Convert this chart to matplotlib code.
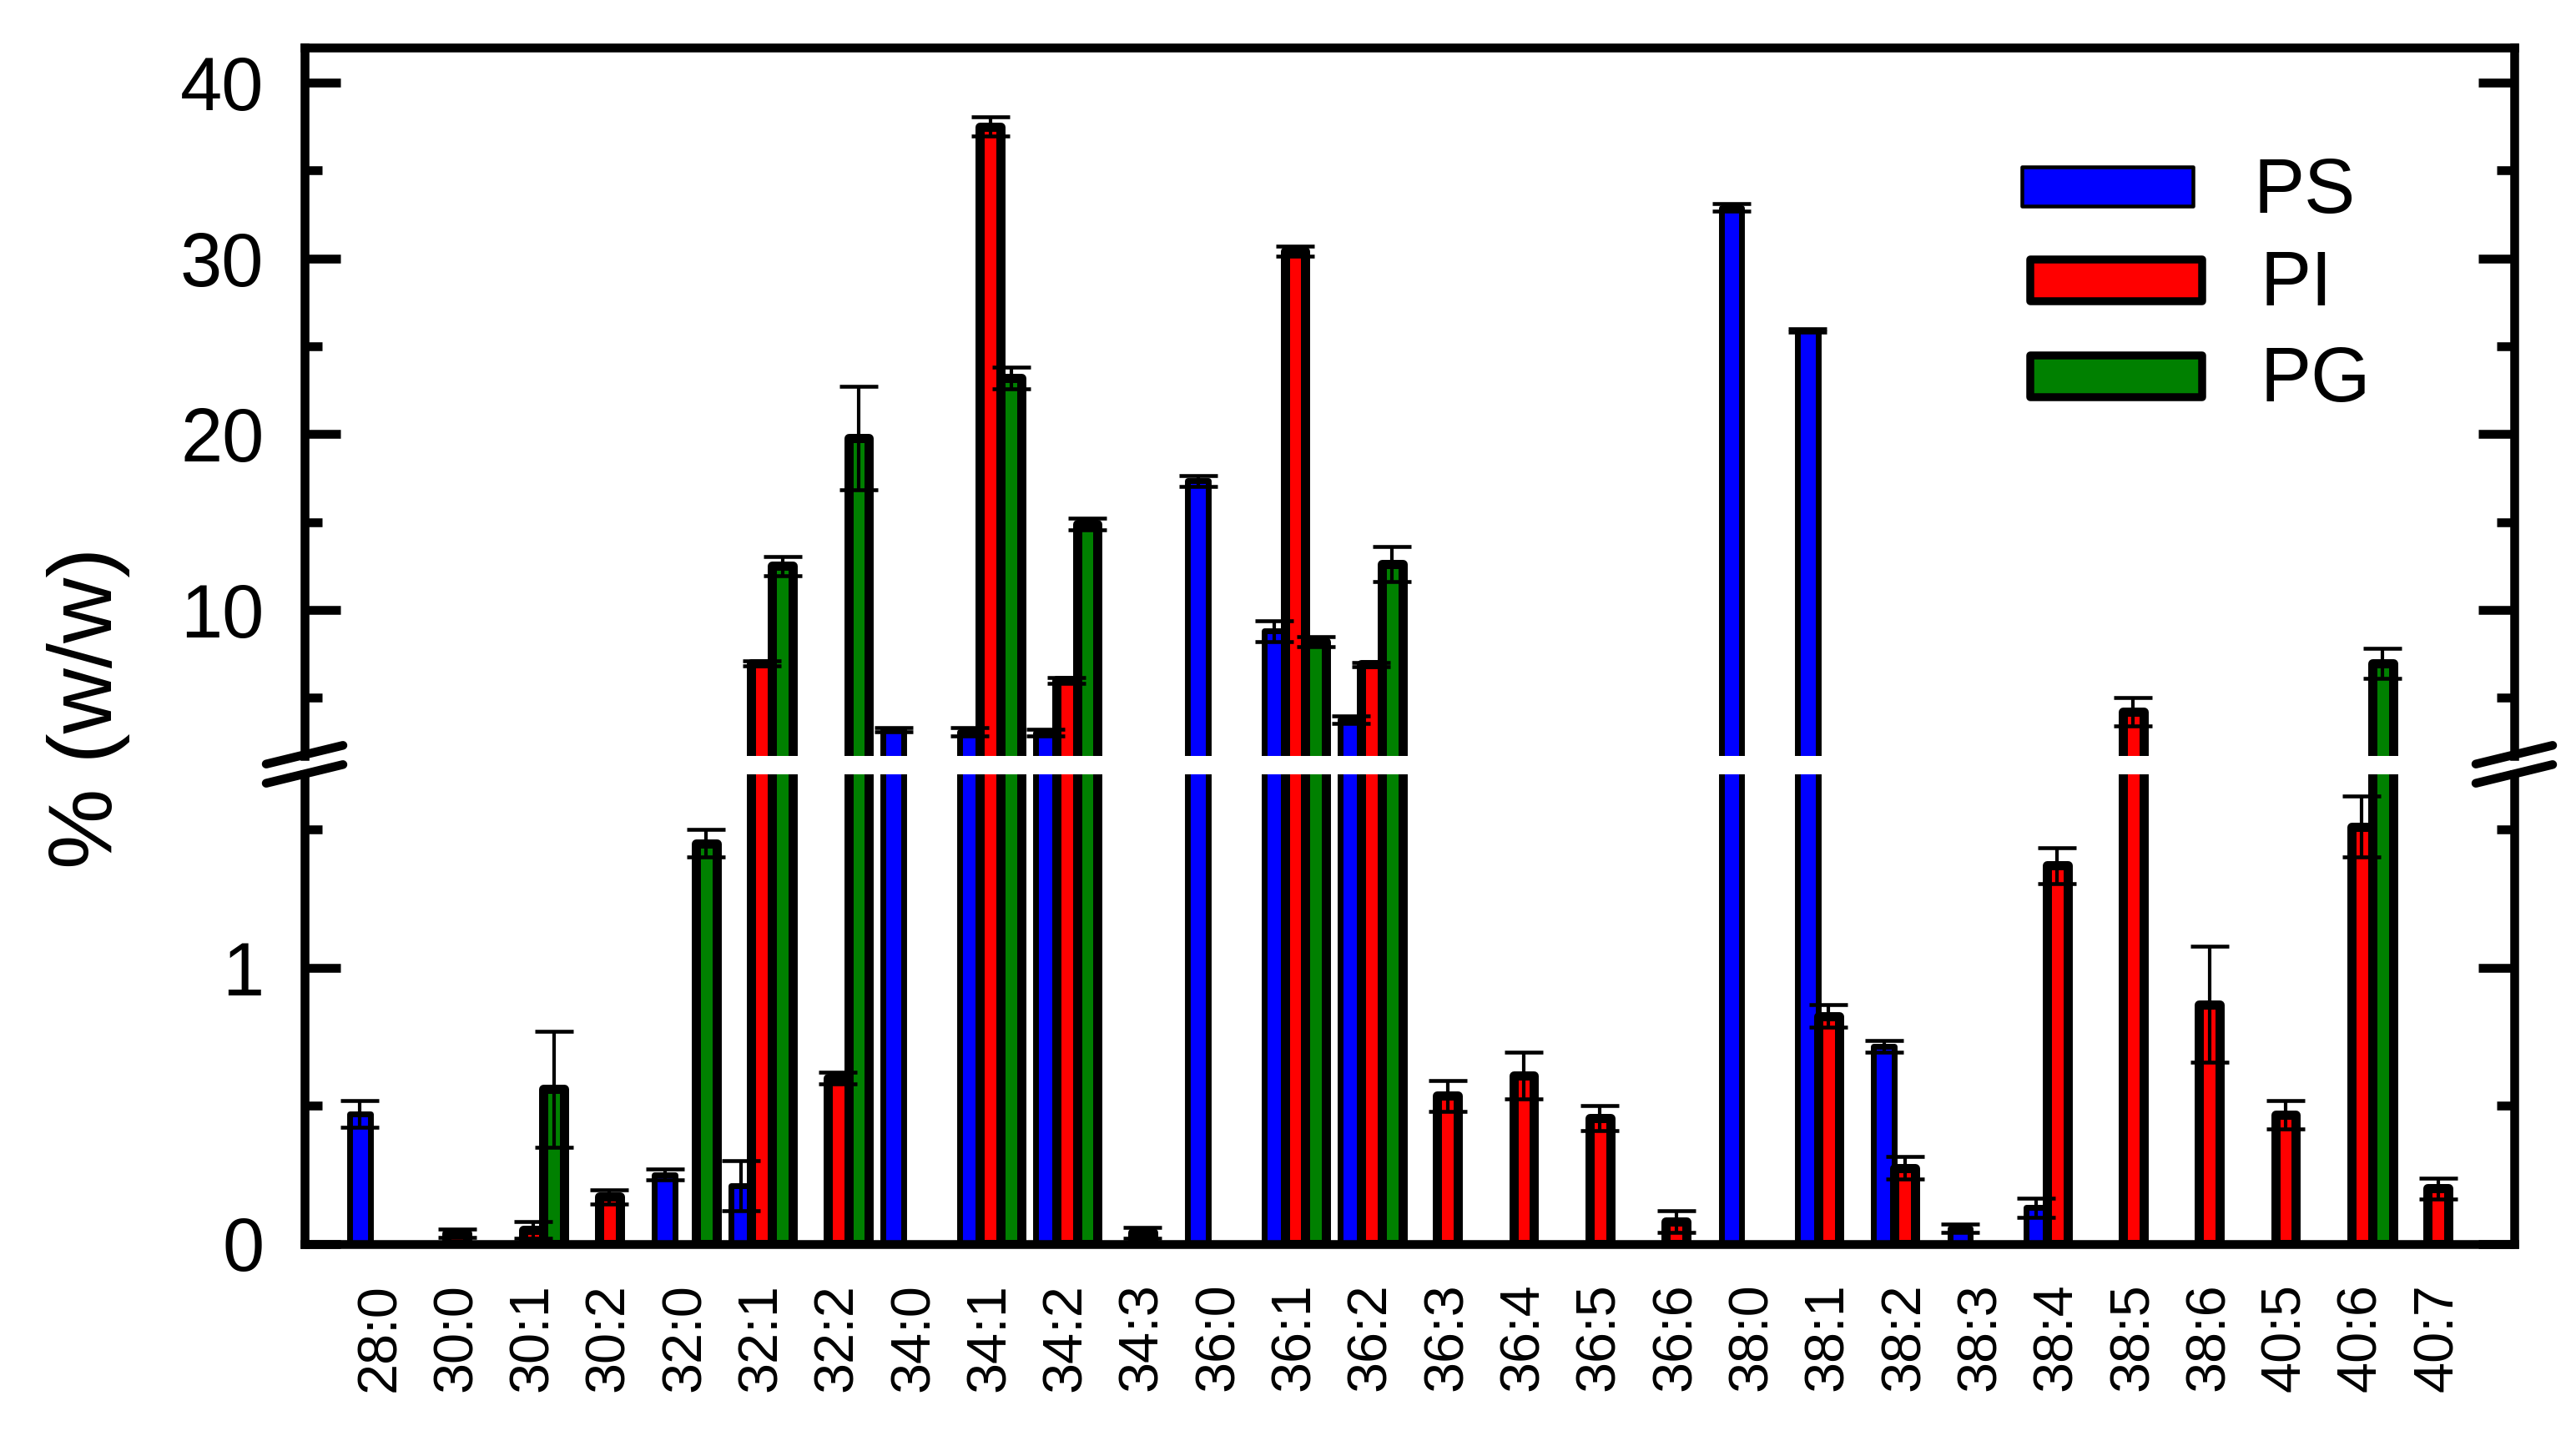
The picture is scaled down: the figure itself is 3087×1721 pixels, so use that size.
import numpy as np
import matplotlib
matplotlib.use("Agg")
import matplotlib.pyplot as plt
from matplotlib.lines import Line2D
from matplotlib.patches import Rectangle
from matplotlib.ticker import FixedLocator

plt.rcParams['font.family'] = ['Liberation Sans', 'DejaVu Sans']

# ---------------- data ----------------
categories = ["28:0", "30:0", "30:1", "30:2", "32:0", "32:1", "32:2", "34:0",
              "34:1", "34:2", "34:3", "36:0", "36:1", "36:2", "36:3", "36:4",
              "36:5", "36:6", "38:0", "38:1", "38:2", "38:3", "38:4", "38:5",
              "38:6", "40:5", "40:6", "40:7"]
nan = np.nan
ps_values = [0.47, nan, nan, nan, 0.25, 0.21, nan, 3.2,
             3.07, 3.04, nan, 17.35, 8.8, 3.77, nan, nan,
             nan, nan, 32.9, 25.9, 0.715, 0.055, 0.13, nan,
             nan, nan, nan, nan]
ps_errors = [0.048, nan, nan, nan, 0.02, 0.09, nan, 0.1,
             0.23, 0.2, nan, 0.3, 0.6, 0.2, nan, nan,
             nan, nan, 0.2, 0.1, 0.02, 0.015, 0.035, nan,
             nan, nan, nan, nan]
pi_values = [nan, 0.038, 0.05, 0.17, nan, 6.96, 0.6, nan,
             37.5, 6.0, 0.04, nan, 30.4, 6.9, 0.535, 0.61,
             0.455, 0.08, nan, 0.825, 0.275, nan, 1.37, 4.2,
             0.867, 0.467, 1.51, 0.2]
pi_errors = [nan, 0.015, 0.03, 0.025, nan, 0.15, 0.022, nan,
             0.55, 0.17, 0.02, nan, 0.28, 0.13, 0.055, 0.085,
             0.045, 0.04, nan, 0.04, 0.04, nan, 0.065, 0.8,
             0.21, 0.05, 0.11, 0.038]
pg_values = [nan, nan, 0.56, nan, 1.45, 12.5, 19.8, nan,
             23.2, 14.9, nan, nan, 8.2, 12.6, nan, nan,
             nan, nan, nan, nan, nan, nan, nan, nan,
             nan, nan, 6.96, nan]
pg_errors = [nan, nan, 0.21, nan, 0.05, 0.55, 2.95, nan,
             0.6, 0.35, nan, nan, 0.3, 1.0, nan, nan,
             nan, nan, nan, nan, nan, nan, nan, nan,
             nan, nan, 0.85, nan]
series_labels = ["PS", "PI", "PG"]
series_colors = ["#0000ff", "#ff0000", "#008000"]
upper_ticks = [10, 20, 30, 40]
upper_minor = [5, 15, 25, 35]
lower_ticks = [0, 1]
lower_tick_labels = ["0", "1"]
lower_minor = [0.5, 1.5]
y_label = "% (w/w)"
BREAK = 1.7
Y_TOP = 42

# ---------------- layout (pixels of the 3087x1721 canvas) ----------------
W, H, DPI = 3087, 1721, 100
PT = DPI / 72.0
fig = plt.figure(figsize=(W / DPI, H / DPI), dpi=DPI)


def fx(px):
    return px / W


def fy(py):
    return 1 - py / H


AX_L, AX_R = 365, 3013
UP_T, UP_B = 57, 906
LO_T, LO_B = 928, 1490.5

ax_up = fig.add_axes([fx(AX_L), fy(UP_B), (AX_R - AX_L) / W, (UP_B - UP_T) / H])
ax_lo = fig.add_axes([fx(AX_L), fy(LO_B), (AX_R - AX_L) / W, (LO_B - LO_T) / H])

n = len(categories)
x = np.arange(n)
bar_w = 0.272
offsets = [-0.272, 0.0, 0.272]
edge_lw = [5.0, 7.9, 7.9]
all_vals = [ps_values, pi_values, pg_values]
all_errs = [ps_errors, pi_errors, pg_errors]

for ax in (ax_up, ax_lo):
    for i in range(3):
        v = np.array(all_vals[i], dtype=float)
        e = np.array(all_errs[i], dtype=float)
        m = ~np.isnan(v)
        if ax is ax_up:
            m &= np.nan_to_num(v) > BREAK
        ax.bar(x[m] + offsets[i], v[m], width=bar_w, color=series_colors[i],
               edgecolor="black", linewidth=edge_lw[i], joinstyle="round",
               zorder=2)
    for i in range(3):
        v = np.array(all_vals[i], dtype=float)
        e = np.array(all_errs[i], dtype=float)
        m = ~np.isnan(v)
        if ax is ax_up:
            m &= np.nan_to_num(v) > BREAK
        ax.errorbar(x[m] + offsets[i], v[m], yerr=e[m], fmt="none",
                    ecolor="black", elinewidth=3.0, capsize=16.5,
                    capthick=3.3, zorder=3)
    ax.set_xlim(-1, n)
    for s in ax.spines.values():
        s.set_linewidth(7.6)
    ax.tick_params(axis="y", which="both", direction="in", left=True,
                   right=True, width=7.6, labelsize=65, pad=35)
    ax.tick_params(axis="y", which="major", length=31)
    ax.tick_params(axis="y", which="minor", length=15)

ax_up.set_ylim(BREAK, Y_TOP)
ax_lo.set_ylim(0, BREAK)
ax_up.spines["bottom"].set_visible(False)
ax_lo.spines["top"].set_visible(False)

ax_up.yaxis.set_major_locator(FixedLocator(upper_ticks))
ax_up.yaxis.set_minor_locator(FixedLocator(upper_minor))
ax_up.set_yticklabels([str(t) for t in upper_ticks])
ax_lo.yaxis.set_major_locator(FixedLocator(lower_ticks))
ax_lo.yaxis.set_minor_locator(FixedLocator(lower_minor))
ax_lo.set_yticklabels(lower_tick_labels)

ax_up.tick_params(axis="x", which="both", bottom=False, top=False,
                  labelbottom=False)
ax_lo.set_xticks(x)
ax_lo.set_xticklabels(categories, rotation=90)
ax_lo.tick_params(axis="x", which="both", length=0, labelsize=48, pad=34,
                  top=False)

# y label
fig.text(fx(106), fy(848), y_label, rotation=90, ha="center", va="center",
         fontsize=78)

# break marks on both side spines
for cx in (AX_L, AX_R):
    for dy in (0.0, 23.0):
        x0, y0 = cx - 46, 915.7 + dy
        x1, y1 = cx + 46, 893.3 + dy
        fig.add_artist(Line2D([fx(x0), fx(x1)], [fy(y0), fy(y1)],
                              transform=fig.transFigure, color="black",
                              lw=10.5 / PT, solid_capstyle="round",
                              zorder=10, clip_on=False))

# legend (drawn manually to match handle geometry)
leg_boxes = [(2423, 200, 2628, 247), (2433, 311.5, 2638.5, 360.5),
             (2433, 426.5, 2638.5, 475.5)]
leg_lw = [4.5 / PT, 9.5 / PT, 9.5 / PT]
leg_text = [(2701, 254.5), (2708, 366.5), (2708, 481)]
for i in range(3):
    x0, y0, x1, y1 = leg_boxes[i]
    fig.add_artist(Rectangle((fx(x0), fy(y1)), (x1 - x0) / W, (y1 - y0) / H,
                             transform=fig.transFigure,
                             facecolor=series_colors[i], edgecolor="black",
                             linewidth=leg_lw[i], joinstyle="round",
                             zorder=10))
    tx, ty = leg_text[i]
    fig.text(fx(tx), fy(ty), series_labels[i], ha="left", va="baseline",
             fontsize=66)

fig.savefig("out.png", dpi=DPI, facecolor="white")
